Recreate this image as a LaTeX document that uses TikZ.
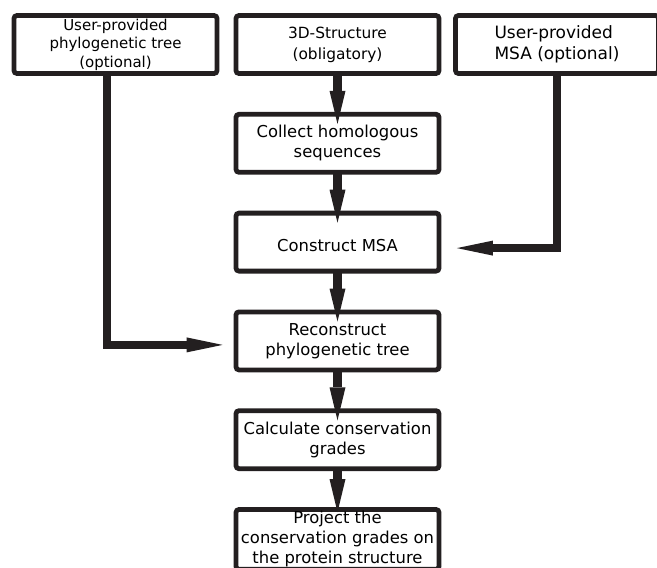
\documentclass[tikz,border=0pt]{standalone}
\usepackage{fontspec}
\setmainfont{DejaVu Sans}
\usepackage{tikz}
\usetikzlibrary{positioning}
\usetikzlibrary{arrows.meta}
\definecolor{inkblack}{HTML}{231F20}

\begin{document}
\begin{tikzpicture}[
  x = 1pt,
  y = -1pt,
  stage/.style = {
    draw = inkblack,
    line width = 4.8pt,
    rounded corners = 3pt,
    fill = white,
    align = center,
    minimum width = 203pt,
    minimum height = 58pt,
    inner sep = 2pt,
    font = \fontsize{16.4}{20}\selectfont,
    execute at begin node = {\rule{0pt}{1.1em}},
  },
  flow/.style = {
    ->,
    draw = inkblack,
    line width = 9pt,
    shorten >= -12pt,
    shorten <= -4pt,
  },
  feed/.style = {
    -{Triangle[length=36pt,width=15pt,line width=0pt]},
    draw = inkblack,
    line width = 8pt,
    shorten <= -2pt,
  },
  >={Triangle[length=33pt,width=16pt,line width=0pt]},
  node distance = 36pt,
]

  \fill[white] (0,0) rectangle (657,568);
  \useasboundingbox (0,0) rectangle (657,568);

  % inputs
  \node[stage, font=\fontsize{15}{18.5}\selectfont] (usertree) at (115.5,44.5)
    {User-provided\\phylogenetic tree\\(optional)};
  \node[stage, font=\fontsize{15.4}{21}\selectfont] (structure) at (337.5,44.5)
    {3D-Structure\\(obligatory)};
  \node[stage, align=left, font=\fontsize{17}{21.5}\selectfont] (usermsa) at (557,44.5)
    {User-provided\\MSA (optional)};

  % pipeline
  \node[stage] (collect) [below=of structure] {Collect homologous\\sequences};
  \node[stage] (msa) [below=of collect] {Construct MSA};
  \node[stage] (tree) [below=of msa] {Reconstruct\\phylogenetic tree};
  \node[stage] (grades) [below=of tree] {Calculate conservation\\grades};
  \node[stage, execute at begin node={}] (project) [below=of grades]
    {Project the\\conservation grades on\\the protein structure};

  \foreach \from/\to in {structure/collect, collect/msa, msa/tree, tree/grades}
    \draw[flow] (\from.south) -- (\to.north);
  \draw[flow, shorten >= -5pt] (grades.south) -- (project.north);

  \draw[feed, shorten >= 11pt] ([xshift=-8.5pt]usertree.south) |- ([yshift=-4pt]tree.west);
  \draw[feed, shorten >= 15.5pt] (usermsa.south) |- ([yshift=-6pt]msa.east);

\end{tikzpicture}
\end{document}
